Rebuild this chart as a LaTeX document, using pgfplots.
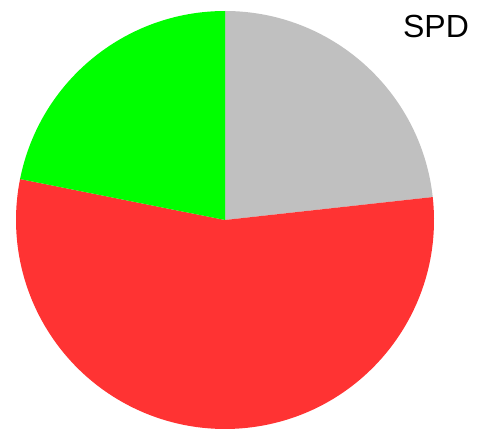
\documentclass[border=0pt]{standalone}
\usepackage{pgfplots}
\usepackage{pgfplotstable}
\pgfplotsset{compat=1.18}
\usepackage{fontspec}
\setmainfont{Liberation Sans}
\definecolor{cgray}{HTML}{C0C0C0}
\definecolor{cred}{HTML}{FF3333}
\definecolor{cgreen}{HTML}{00FF00}
\pgfplotstableread{
label value color
A 23.25 cgray
B 54.89 cred
C 21.86 cgreen
}\piedata
\begin{document}
\begin{tikzpicture}
\begin{axis}[hide axis, scale only axis, width=483pt, height=431pt,
  xmin=0, xmax=483, ymin=0, ymax=431, clip=false]
\path (axis cs:0,0) (axis cs:483,431);
\pgfplotstablegetrowsof{\piedata}
\pgfmathtruncatemacro{\nrows}{\pgfplotsretval-1}
\def\startang{90}
\pgfplotsforeachungrouped \i in {0,...,\nrows}{%
  \pgfplotstablegetelem{\i}{value}\of{\piedata}\let\val\pgfplotsretval
  \pgfplotstablegetelem{\i}{color}\of{\piedata}\let\col\pgfplotsretval
  \pgfmathsetmacro{\endang}{\startang-3.6*\val}
  \edef\temp{\noexpand\fill[\col] (axis cs:225,211) -- ++(\startang:209pt) arc[start angle=\startang, end angle=\endang, radius=209pt] -- cycle;}
  \temp
  \global\let\startang\endang
}
\node[anchor=base, font=\fontsize{32}{36}\selectfont, inner sep=0pt] at (axis cs:436,393) {SPD};
\end{axis}
\end{tikzpicture}
\end{document}
